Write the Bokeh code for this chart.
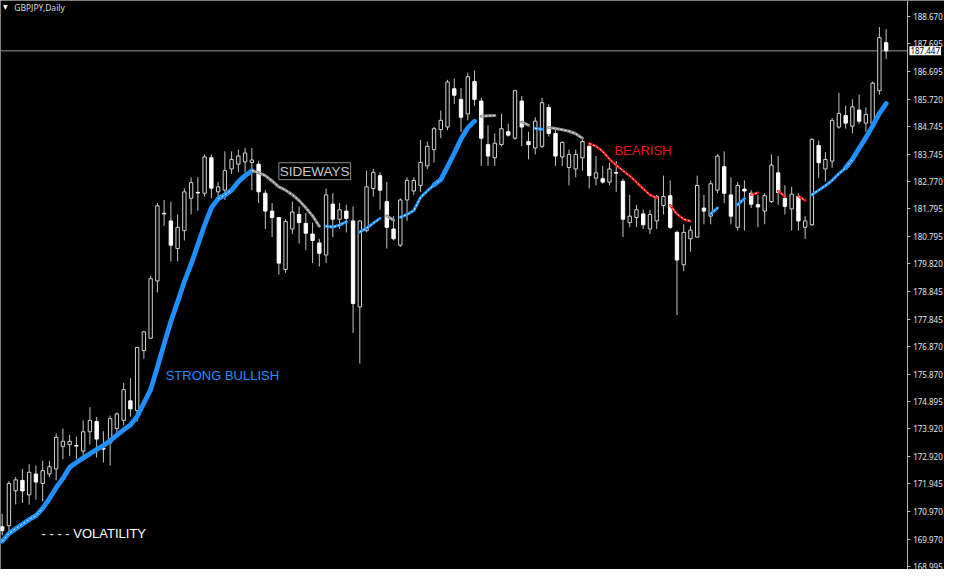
import math
from bokeh.plotting import figure
from bokeh.models import Range1d, FixedTicker, PrintfTickFormatter, Label, ColumnDataSource
from bokeh.embed import file_html
from bokeh.resources import INLINE

symbol_title = "GBPJPY,Daily"

opens = [170.41, 170.45, 171.70, 172.07, 171.55, 172.30, 171.96, 172.30, 172.48, 173.29,
         173.35, 173.32, 173.12, 173.81, 174.18, 173.21, 173.41, 173.93, 174.22, 174.92,
         174.57, 176.72, 177.16, 179.21, 181.63, 181.36, 180.37, 181.01, 182.17, 182.38,
         182.35, 183.62, 182.40, 182.46, 183.22, 183.39, 183.47, 183.45, 183.39, 182.35,
         181.71, 181.48, 179.62, 181.07, 181.59, 181.27, 180.89, 180.57, 180.14, 181.96,
         181.42, 181.71, 181.36, 178.28, 181.01, 182.52, 182.98, 182.05, 181.07, 180.49,
         182.11, 182.43, 182.63, 183.33, 183.91, 184.63, 184.72, 186.09, 185.71, 185.19,
         186.35, 185.65, 184.09, 183.62, 184.09, 184.55, 184.32, 185.65, 184.20, 183.97,
         184.03, 185.42, 184.49, 183.65, 183.27, 183.22, 183.62, 184.03, 182.89, 182.87,
         182.75, 183.09, 182.78, 181.30, 181.48, 181.61, 181.07, 181.36, 181.91, 182.26,
         180.95, 179.79, 180.72, 180.78, 181.82, 181.53, 182.46, 183.30, 182.29, 181.13,
         182.50, 182.35, 181.94, 181.71, 182.05, 183.08, 182.17, 181.79, 182.23, 181.13,
         181.22, 184.06, 183.22, 183.50, 184.72, 185.13, 184.75, 185.33, 184.86, 184.84,
         186.02, 187.74]
highs = [170.87, 172.05, 172.19, 172.48, 172.65, 172.60, 172.77, 172.77, 173.76, 173.93,
         173.70, 173.64, 174.22, 174.69, 174.34, 173.83, 174.39, 174.51, 175.56, 175.73,
         176.85, 177.41, 179.39, 182.00, 182.11, 182.05, 181.59, 182.52, 182.92, 182.92,
         183.74, 183.74, 182.75, 183.85, 183.85, 183.91, 183.97, 183.97, 183.51, 182.46,
         182.00, 181.49, 181.42, 182.05, 181.88, 181.65, 181.30, 180.72, 182.52, 182.35,
         182.00, 181.94, 181.88, 181.37, 183.16, 183.22, 183.10, 182.75, 181.53, 182.17,
         182.92, 182.92, 184.26, 184.20, 184.72, 185.31, 186.41, 186.46, 186.12, 186.67,
         186.75, 185.77, 184.78, 184.49, 185.19, 184.84, 186.06, 185.83, 184.55, 185.07,
         185.77, 185.54, 184.66, 184.20, 183.91, 183.91, 184.26, 184.14, 183.68, 183.33,
         183.45, 183.51, 182.87, 182.29, 181.94, 181.76, 181.76, 182.29, 182.98, 182.81,
         181.01, 181.24, 181.18, 182.98, 182.29, 182.81, 183.74, 183.85, 182.92, 182.75,
         182.81, 182.46, 182.29, 182.35, 183.74, 183.68, 182.63, 182.58, 182.35, 181.53,
         184.32, 184.24, 183.82, 185.04, 185.94, 185.48, 185.71, 185.88, 185.42, 186.35,
         188.30, 188.23]
lows = [170.10, 170.17, 171.21, 171.26, 171.20, 171.38, 171.32, 172.19, 172.07, 172.83,
        172.94, 172.83, 172.77, 173.35, 172.89, 172.71, 172.60, 173.76, 174.04, 174.35,
        174.17, 176.43, 177.13, 178.80, 181.18, 179.91, 179.91, 180.66, 181.59, 181.73,
        182.23, 182.17, 182.05, 182.11, 183.04, 183.10, 183.10, 182.46, 182.00, 181.07,
        180.78, 179.44, 179.50, 180.89, 180.55, 180.31, 179.85, 179.73, 179.85, 180.78,
        181.07, 180.95, 177.35, 176.25, 180.95, 182.23, 181.76, 180.37, 180.66, 180.43,
        181.36, 182.29, 182.40, 183.22, 183.45, 184.32, 184.61, 185.54, 184.55, 184.96,
        185.48, 183.33, 183.33, 183.33, 184.03, 184.38, 184.26, 184.03, 183.56, 183.74,
        183.97, 184.38, 183.33, 183.33, 182.63, 182.92, 183.16, 182.52, 182.63, 182.69,
        182.63, 182.40, 180.78, 181.13, 181.13, 181.07, 180.89, 181.07, 181.59, 181.07,
        177.99, 179.56, 180.26, 180.77, 181.24, 181.24, 182.35, 182.00, 181.24, 181.01,
        181.01, 181.82, 181.13, 181.24, 182.00, 181.94, 181.59, 181.01, 181.01, 180.72,
        181.18, 182.90, 182.77, 183.26, 184.66, 184.66, 184.49, 184.84, 184.55, 184.78,
        185.88, 187.16]
closes = [170.27, 171.96, 172.09, 171.69, 172.36, 172.01, 172.42, 172.56, 173.61, 173.47,
          173.47, 173.30, 173.81, 174.22, 173.55, 173.19, 174.28, 174.45, 175.32, 174.63,
          176.83, 177.39, 179.29, 181.90, 181.61, 180.49, 181.13, 182.40, 182.73, 182.36,
          183.65, 182.53, 182.58, 183.16, 183.56, 183.68, 183.79, 183.54, 182.40, 181.71,
          181.48, 179.85, 181.34, 181.68, 181.30, 180.92, 180.66, 180.20, 182.29, 181.42,
          181.76, 181.45, 178.40, 181.36, 182.58, 183.10, 182.46, 181.13, 180.72, 182.11,
          182.81, 182.81, 183.45, 184.03, 184.66, 184.96, 186.33, 185.86, 185.07, 186.52,
          185.71, 184.32, 183.68, 184.14, 184.66, 184.43, 186.02, 184.72, 184.09, 184.93,
          185.59, 184.49, 183.68, 184.17, 183.74, 183.74, 184.20, 182.98, 183.08, 182.75,
          183.22, 183.07, 181.42, 181.53, 181.76, 181.22, 181.59, 182.23, 182.23, 181.13,
          179.96, 180.95, 181.03, 182.63, 181.71, 182.69, 183.68, 182.35, 181.53, 182.63,
          182.43, 181.96, 181.86, 182.26, 183.36, 182.38, 181.88, 182.32, 181.36, 181.36,
          184.28, 183.44, 183.56, 184.96, 185.21, 184.86, 185.44, 184.93, 185.17, 186.29,
          187.92, 187.447]

# trend line (moving average) values, None where the indicator draws nothing
ma = [169.89, 170.17, 170.34, 170.50, 170.67, 170.81, 171.07, 171.42, 171.81, 172.14,
      172.54, 172.71, 172.87, 173.02, 173.18, 173.32, 173.49, 173.69, 173.88, 174.05,
      174.36, 174.84, 175.32, 176.12, 176.96, 177.76, 178.46, 179.19, 179.81, 180.51,
      181.21, 181.83, 182.15, 182.29, 182.46, 182.76, 182.98, 183.16, 183.09, 182.98,
      182.79, 182.58, 182.46, 182.30, 182.09, 181.83, 181.54, 181.17, 181.17, 181.14,
      181.21, 181.33, None, 180.96, 181.10, 181.28, 181.45, 181.54, 181.38, 181.49,
      181.59, 181.73, 182.20, 182.43, 182.65, 182.84, 183.30, 183.78, 184.29, 184.69,
      184.93, 185.11, 185.12, 185.13, None, None, None, 184.90, 184.79, 184.67,
      184.64, 184.70, 184.67, 184.62, 184.57, 184.48, 184.32, 184.13, 184.03, 183.85,
      183.57, 183.35, 183.16, 182.97, 182.75, 182.51, 182.29, 182.18, None, 181.92,
      181.61, 181.42, 181.35, None, None, 181.61, 181.82, None, None, 181.94,
      182.16, 182.30, 182.37, None, None, 182.43, 182.23, None, 182.25, 182.09,
      182.30, 182.46, 182.62, 182.81, 183.05, 183.26, 183.57, 183.96, 184.34, 184.76,
      185.21, 185.56]

# trend state runs: B = strong bullish, b = bullish, S = sideways, R = bearish
trend_runs = [("B", 37), ("BS", 1), ("S", 10), ("b", 4), ("", 1), ("b", 4), ("S", 2),
              ("b", 5), ("bB", 1), ("B", 6), ("S", 3), ("", 3), ("S", 2), ("b", 2),
              ("S", 6), ("R", 11), ("", 1), ("R", 4), ("", 2), ("b", 2), ("", 2),
              ("b", 2), ("R", 2), ("", 2), ("R", 2), ("", 1), ("R", 2), ("b", 5),
              ("bB", 1), ("B", 6)]
# volatility flag runs
volatility_runs = [(1, 7), (0, 25), (1, 3), (0, 2), (1, 29), (0, 5), (1, 56), (0, 5)]

price_ticks = [188.670, 187.695, 186.695, 185.720, 184.745, 183.745, 182.770, 181.795,
               180.795, 179.820, 178.845, 177.845, 176.870, 175.870, 174.895, 173.920,
               172.920, 171.945, 170.970, 169.970, 168.995]
last_price = 187.447

n = len(opens)
idx = list(range(n))
trend = []
for code, cnt in trend_runs:
    trend += [code] * cnt
volatile = []
for flag, cnt in volatility_runs:
    volatile += [flag] * cnt

# frame covers the whole canvas; the price scale is pinned at the right edge of the bars area
axis_x = 134.12
p = figure(width=944, height=569, output_backend="svg", toolbar_location=None,
           x_axis_location=None, y_axis_location="right",
           x_range=Range1d(-0.25, 139.65), y_range=Range1d(168.88, 189.25),
           background_fill_color="black", border_fill_color="black",
           min_border_left=0, min_border_top=0, min_border_bottom=0, min_border_right=0)
p.outline_line_color = None
p.grid.visible = False

ax = p.yaxis[0]
ax.fixed_location = axis_x
ax.ticker = FixedTicker(ticks=price_ticks)
ax.formatter = PrintfTickFormatter(format="%.3f")
ax.axis_line_color = "#b8b8b8"
ax.major_tick_line_color = "#b8b8b8"
ax.major_tick_in = 0
ax.major_tick_out = 3
ax.minor_tick_line_color = None
ax.major_label_standoff = 3
ax.major_label_text_color = "#e6e6e6"
ax.major_label_text_font = "Noto Sans"
ax.major_label_text_font_size = "8px"

# current price line: from the price scale to the left, behind the candles
p.ray(x=[axis_x], y=[last_price], length=0, angle=math.pi,
      line_color="#9a9a9a", line_width=1, level="underlay")

up = [c >= o for o, c in zip(opens, closes)]
src = ColumnDataSource(dict(
    x=idx, h=highs, l=lows,
    top=[max(o, c) for o, c in zip(opens, closes)],
    bottom=[min(o, c) for o, c in zip(opens, closes)],
    fill=["black" if u else "white" for u in up],
    edge=["#d2d2d2" if u else "white" for u in up],
))
p.segment(x0="x", y0="h", x1="x", y1="l", source=src, line_color="#c4c4c4", line_width=1)
p.vbar(x="x", top="top", bottom="bottom", width=0.5, fill_color="fill",
       line_color="edge", line_width=1, source=src)

nan = float("nan")
styles = {"B": ("#1e90ff", 4.8), "b": ("#1e90ff", 3), "S": ("#8c8c8c", 3), "R": ("#ee1111", 2.5)}
for k, (col, w) in styles.items():
    ys = [m if (m is not None and k in t) else nan for m, t in zip(ma, trend)]
    p.line(idx, ys, line_color=col, line_width=w, line_cap="round", line_join="round")
    ov = [y if v else nan for y, v in zip(ys, volatile)]
    p.line(idx, ov, line_color="white", line_width=1, line_dash="2 2", line_alpha=0.9)

# texts
p.add_layout(Label(x=0.48, y=189.02, text="\u25bc", text_font="DejaVu Sans",
                   text_font_size="6px", text_color="white",
                   text_align="center", text_baseline="middle"))
p.add_layout(Label(x=1.79, y=189.01, text=symbol_title, text_font="Noto Sans",
                   text_font_size="8.5px", text_color="#dcdcdc",
                   text_align="left", text_baseline="middle"))
p.add_layout(Label(x=41.0, y=183.14, text="SIDEWAYS", text_font="Liberation Sans",
                   text_font_size="13.5px", text_color="#c8c8c8",
                   text_align="left", text_baseline="middle",
                   border_line_color="#8a8a8a", border_line_width=1, padding=1))
p.add_layout(Label(x=90.73, y=183.89, text="BEARISH", text_font="Liberation Sans",
                   text_font_size="13px", text_color="#ee1111",
                   text_align="left", text_baseline="middle"))
p.add_layout(Label(x=24.23, y=175.81, text="STRONG BULLISH", text_font="Liberation Sans",
                   text_font_size="13px", text_color="#1e90ff",
                   text_align="left", text_baseline="middle"))
p.add_layout(Label(x=5.83, y=170.17, text="- - - - VOLATILITY", text_font="Liberation Sans",
                   text_font_size="13px", text_color="white",
                   text_align="left", text_baseline="middle"))
# current price box on the price scale
p.add_layout(Label(x=axis_x + 0.33, y=last_price, text=f"{last_price:.3f}",
                   text_font="Noto Sans", text_font_size="8px", text_color="black",
                   background_fill_color="white", padding=1,
                   text_align="left", text_baseline="middle"))

open("out.html", "w").write(file_html(p, INLINE))
